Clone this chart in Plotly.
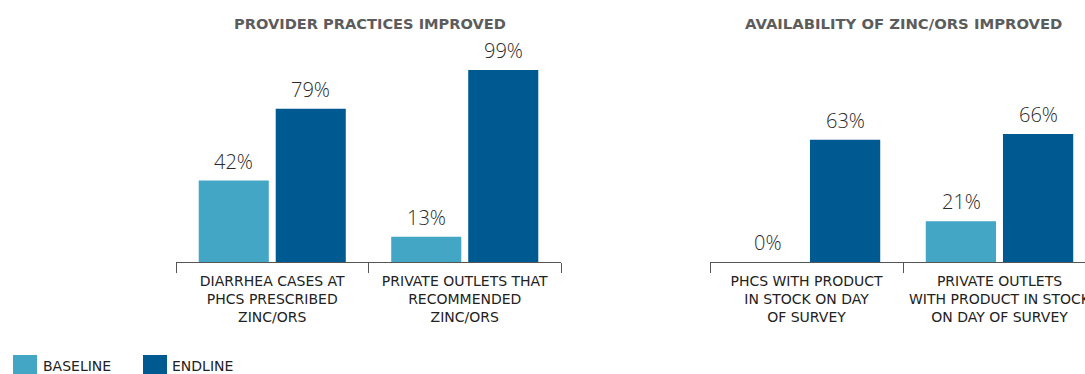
import plotly.graph_objects as go

# Data
left_categories = ["DIARRHEA CASES AT<br>PHCS PRESCRIBED<br>ZINC/ORS",
                   "PRIVATE OUTLETS THAT<br>RECOMMENDED<br>ZINC/ORS"]
left_baseline = [42, 13]
left_endline = [79, 99]

right_categories = ["PHCS WITH PRODUCT<br>IN STOCK ON DAY<br>OF SURVEY",
                    "PRIVATE OUTLETS<br>WITH PRODUCT IN STOCK<br>ON DAY OF SURVEY"]
right_baseline = [0, 21]
right_endline = [63, 66]

panel_titles = ["PROVIDER PRACTICES IMPROVED", "AVAILABILITY OF ZINC/ORS IMPROVED"]
series_names = ["BASELINE", "ENDLINE"]

BASE_COLOR = "#43A6C5"
END_COLOR = "#005A92"
W, H = 1085, 374

value_font = dict(family="Open Sans", size=20, color="#2a2a2a", weight=300)
tick_font = dict(family="DejaVu Sans", size=14, color="#222222")

fig = go.Figure()

# bar slot offset (px) of each series from its category centre
SLOT_SHIFT = 38.5


def add_series(cats, vals, name, color, xa, ya, side):
    fig.add_trace(go.Bar(
        x=cats, y=vals, name=name, marker=dict(color=color, line=dict(width=0)),
        showlegend=False, xaxis=xa, yaxis=ya, hoverinfo="skip",
    ))
    # value labels sitting just above each bar
    for c, v in zip(cats, vals):
        fig.add_annotation(text=f"{v}%", x=c, y=v, xref=xa, yref=ya,
                           xanchor="center", yanchor="bottom",
                           xshift=side * SLOT_SHIFT, yshift=4,
                           showarrow=False, font=value_font)


add_series(left_categories, left_baseline, series_names[0], BASE_COLOR, "x", "y", -1)
add_series(left_categories, left_endline, series_names[1], END_COLOR, "x", "y", 1)
add_series(right_categories, right_baseline, series_names[0], BASE_COLOR, "x2", "y2", -1)
add_series(right_categories, right_endline, series_names[1], END_COLOR, "x2", "y2", 1)

y_dom = [(H - 262) / H, (H - 68) / H]
cat_axis = dict(
    type="category", showline=True, linecolor="#555555", linewidth=1,
    ticks="outside", ticklen=10, tickcolor="#555555", tickwidth=1,
    tickson="boundaries", tickfont=tick_font, ticklabelstandoff=6,
    showgrid=False, zeroline=False, automargin=False, fixedrange=True,
)
val_axis = dict(range=[0, 100], domain=y_dom, visible=False,
                showgrid=False, zeroline=False, fixedrange=True)

# right panel continues past the page edge, so its range is cut short
right_cut = 1.5 - (1096 - 1085) / 193

fig.update_layout(
    width=W, height=H,
    margin=dict(l=0, r=0, t=0, b=0),
    paper_bgcolor="white", plot_bgcolor="white",
    barmode="group", bargap=0.2, bargroupgap=0.09,
    xaxis=dict(cat_axis, domain=[176 / W, 561 / W], anchor="y", range=[-0.5, 1.5]),
    yaxis=dict(val_axis, anchor="x"),
    xaxis2=dict(cat_axis, domain=[710 / W, 1.0], anchor="y2", range=[-0.5, right_cut]),
    yaxis2=dict(val_axis, anchor="x2"),
    showlegend=False,
)

# panel titles
for title, xc, fs in zip(panel_titles, [369.5 / W, 903 / W], [14.6, 14.8]):
    fig.add_annotation(text=title, x=xc, y=(H - 23) / H, xref="paper", yref="paper",
                       xanchor="center", yanchor="middle", showarrow=False,
                       font=dict(family="DejaVu Sans", size=fs, color="#5c5c5c",
                                 weight="bold"))

# legend swatches and labels
legend_items = [(13, 41, BASE_COLOR), (143, 170, END_COLOR)]
for name, (sx, tx, color) in zip(series_names, legend_items):
    fig.add_shape(type="rect", xref="paper", yref="paper",
                  x0=sx / W, x1=(sx + 24) / W, y0=(H - 379) / H, y1=(H - 355) / H,
                  fillcolor=color, line=dict(width=0))
    fig.add_annotation(text=name, x=tx / W, y=(H - 366) / H, xref="paper", yref="paper",
                       xanchor="left", yanchor="middle", showarrow=False,
                       font=dict(family="DejaVu Sans", size=14, color="#222222"))

fig.write_html("out.html", config={"displayModeBar": False})
